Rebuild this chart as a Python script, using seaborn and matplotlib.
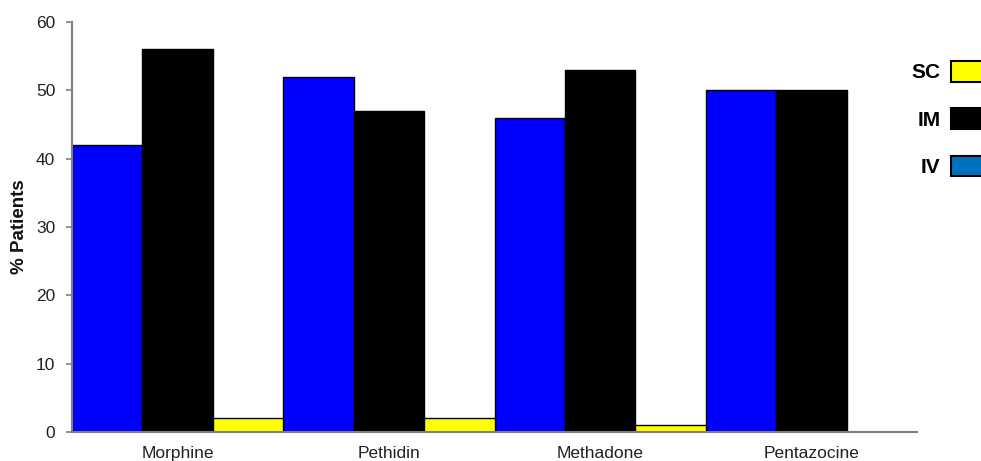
import matplotlib
matplotlib.use("Agg")
import matplotlib.pyplot as plt
from matplotlib.patches import Patch
import seaborn as sns
import pandas as pd

drugs = ["Morphine", "Pethidin", "Methadone", "Pentazocine"]
routes = ["IV", "IM", "SC"]
iv_values = [42, 52, 46, 50]
im_values = [56, 47, 53, 50]
sc_values = [2, 2, 1, 0]
y_ticks = [0, 10, 20, 30, 40, 50, 60]

bar_colors = {"IV": "#0000FF", "IM": "#000000", "SC": "#FFFF00"}
legend_colors = {"SC": "#FFFF00", "IM": "#000000", "IV": "#0070C0"}

rows = []
for route, vals in zip(routes, [iv_values, im_values, sc_values]):
    for drug, v in zip(drugs, vals):
        rows.append({"Drug": drug, "Route": route, "Value": v})
df = pd.DataFrame(rows)

sns.set_style("white")
plt.rcParams["font.family"] = ["Liberation Sans", "DejaVu Sans"]

fig = plt.figure(figsize=(9.81, 4.61), dpi=100)
ax = fig.add_axes([0.0734, 0.0629, 0.8614, 0.8894])

sns.barplot(data=df, x="Drug", y="Value", hue="Route", order=drugs,
            hue_order=routes, palette=bar_colors, width=1.0, gap=0,
            edgecolor="black", linewidth=1.0, saturation=1, legend=False,
            errorbar=None, ax=ax)

ax.set_xlim(-0.5, 3.5)
ax.set_ylim(0, 60)
ax.set_yticks(y_ticks)
ax.set_xlabel("")
ax.set_ylabel("% Patients", fontsize=13.5, fontweight="bold", color="#111111")
ax.yaxis.set_label_coords(-0.052, 0.5)

for side in ["top", "right"]:
    ax.spines[side].set_visible(False)
for side in ["left", "bottom"]:
    ax.spines[side].set_color("#808080")
    ax.spines[side].set_linewidth(1.5)

ax.tick_params(axis="y", direction="out", length=4, width=1.2,
               color="#808080", labelsize=12.5, pad=8, left=True,
               labelcolor="#222222")
ax.tick_params(axis="x", length=0, labelsize=12.5, pad=10,
               labelcolor="#222222")

handles = [Patch(facecolor=legend_colors[r], edgecolor="black", linewidth=1.5)
           for r in ["SC", "IM", "IV"]]
leg = ax.legend(handles, ["SC", "IM", "IV"], loc="upper left",
                bbox_to_anchor=(0.929, 0.868), bbox_transform=fig.transFigure,
                frameon=False, markerfirst=False, handlelength=3.0,
                handleheight=1.15, handletextpad=0.5, labelspacing=1.25,
                borderpad=0, borderaxespad=0,
                prop={"size": 15, "weight": "bold"})
for t in leg.get_texts():
    t.set_color("black")

fig.savefig("out.png", dpi=100)
